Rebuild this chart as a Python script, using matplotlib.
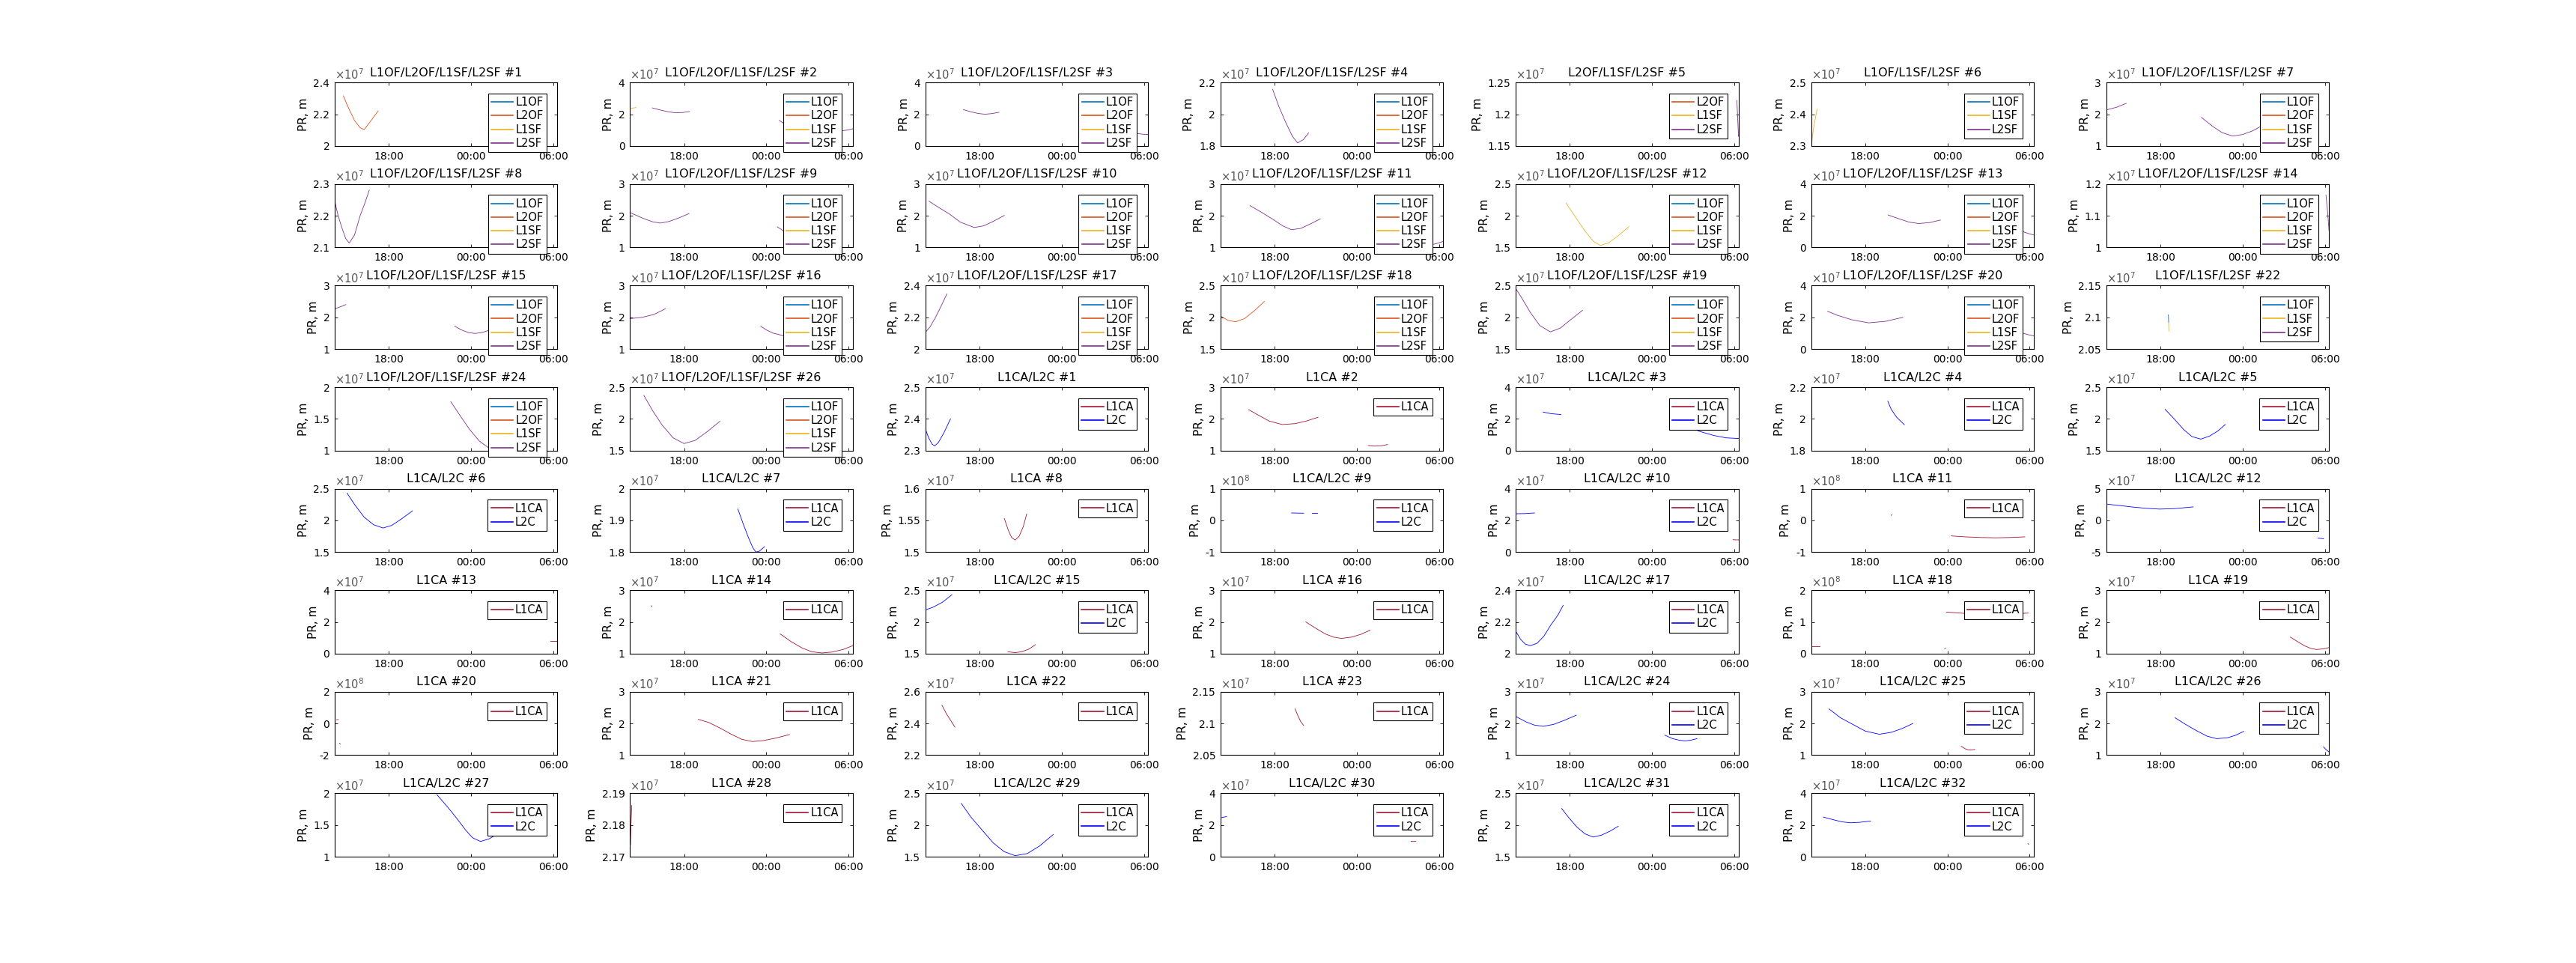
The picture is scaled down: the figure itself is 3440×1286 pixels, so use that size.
import numpy as np
import matplotlib
matplotlib.use("Agg")
import matplotlib.pyplot as plt
from matplotlib.lines import Line2D

plt.rcParams['font.family'] = ['DejaVu Sans']
plt.rcParams['mathtext.fontset'] = 'dejavusans'

# pseudoranges are kept in units of 1e7 m, time in hours (24 = 00:00 next day)
PR_UNIT = 1e7

titles = [
    "L1OF/L2OF/L1SF/L2SF #1", "L1OF/L2OF/L1SF/L2SF #2", "L1OF/L2OF/L1SF/L2SF #3",
    "L1OF/L2OF/L1SF/L2SF #4", "L2OF/L1SF/L2SF #5", "L1OF/L1SF/L2SF #6",
    "L1OF/L2OF/L1SF/L2SF #7", "L1OF/L2OF/L1SF/L2SF #8", "L1OF/L2OF/L1SF/L2SF #9",
    "L1OF/L2OF/L1SF/L2SF #10", "L1OF/L2OF/L1SF/L2SF #11", "L1OF/L2OF/L1SF/L2SF #12",
    "L1OF/L2OF/L1SF/L2SF #13", "L1OF/L2OF/L1SF/L2SF #14", "L1OF/L2OF/L1SF/L2SF #15",
    "L1OF/L2OF/L1SF/L2SF #16", "L1OF/L2OF/L1SF/L2SF #17", "L1OF/L2OF/L1SF/L2SF #18",
    "L1OF/L2OF/L1SF/L2SF #19", "L1OF/L2OF/L1SF/L2SF #20", "L1OF/L1SF/L2SF #22",
    "L1OF/L2OF/L1SF/L2SF #24", "L1OF/L2OF/L1SF/L2SF #26", "L1CA/L2C #1",
    "L1CA #2", "L1CA/L2C #3", "L1CA/L2C #4", "L1CA/L2C #5",
    "L1CA/L2C #6", "L1CA/L2C #7", "L1CA #8", "L1CA/L2C #9",
    "L1CA/L2C #10", "L1CA #11", "L1CA/L2C #12", "L1CA #13",
    "L1CA #14", "L1CA/L2C #15", "L1CA #16", "L1CA/L2C #17",
    "L1CA #18", "L1CA #19", "L1CA #20", "L1CA #21",
    "L1CA #22", "L1CA #23", "L1CA/L2C #24", "L1CA/L2C #25",
    "L1CA/L2C #26", "L1CA/L2C #27", "L1CA #28", "L1CA/L2C #29",
    "L1CA/L2C #30", "L1CA/L2C #31", "L1CA/L2C #32",
]

ylims = [
    (2.0, 2.4), (0, 4), (0, 4), (1.8, 2.2), (1.15, 1.25), (2.3, 2.5), (1, 3),
    (2.1, 2.3), (1, 3), (1, 3), (1, 3), (1.5, 2.5), (0, 4), (1.0, 1.2),
    (1, 3), (1, 3), (2.0, 2.4), (1.5, 2.5), (1.5, 2.5), (0, 4), (2.05, 2.15),
    (1, 2), (1.5, 2.5), (2.3, 2.5), (1, 3), (0, 4), (1.8, 2.2), (1.5, 2.5),
    (1.5, 2.5), (1.8, 2.0), (1.5, 1.6), (-10, 10), (0, 4), (-10, 10), (-5, 5),
    (0, 4), (1, 3), (1.5, 2.5), (1, 3), (2.0, 2.4), (0, 20), (1, 3),
    (-20, 20), (1, 3), (2.2, 2.6), (2.05, 2.15), (1, 3), (1, 3), (1, 3),
    (1, 2), (2.17, 2.19), (1.5, 2.5), (0, 4), (1.5, 2.5), (0, 4),
]

# (panel index, signal, hours, PR values)
curves = [
    (0, 'L2OF', [14.68, 15.0, 15.5, 15.9, 16.2, 16.7, 17.22], [2.316, 2.25, 2.16, 2.115, 2.103, 2.16, 2.221]),
    (1, 'L1SF', [14.06, 14.25, 14.5], [2.36, 2.39, 2.42]),
    (1, 'L2SF', [15.68, 16.2, 16.8, 17.37, 17.9, 18.4], [2.40, 2.28, 2.16, 2.09, 2.11, 2.17]),
    (1, 'L2SF', [24.94, 25.5, 26.1, 27.0, 28.0, 29.0, 29.45, 29.9, 30.3], [1.61, 1.30, 1.06, 0.90, 0.85, 0.90, 0.95, 1.00, 1.08]),
    (2, 'L2SF', [16.83, 17.4, 17.9, 18.41, 18.9, 19.42], [2.29, 2.15, 2.05, 2.0, 2.04, 2.12]),
    (2, 'L2SF', [29.4, 29.9, 30.3], [0.80, 0.74, 0.72]),
    (3, 'L2SF', [17.85, 18.3, 18.82, 19.3, 19.67, 20.1, 20.48], [2.158, 2.05, 1.946, 1.86, 1.819, 1.84, 1.882]),
    (4, 'L2SF', [30.18, 30.25, 30.3], [1.222, 1.19, 1.165]),
    (5, 'L1SF', [14.06, 14.25, 14.49], [2.30, 2.36, 2.416]),
    (6, 'L2SF', [14.06, 14.8, 15.5], [2.137, 2.22, 2.343]),
    (6, 'L2SF', [20.99, 21.8, 22.5, 23.27, 24.0, 24.7, 25.3], [1.90, 1.62, 1.42, 1.31, 1.36, 1.47, 1.61]),
    (7, 'L2SF', [14.06, 14.3, 14.58, 14.85, 15.11, 15.5, 15.9, 16.25, 16.57], [2.244, 2.2, 2.161, 2.128, 2.114, 2.14, 2.2, 2.24, 2.281]),
    (8, 'L2SF', [14.06, 15.0, 15.7, 16.26, 16.9, 17.6, 18.36], [2.10, 1.92, 1.81, 1.77, 1.82, 1.93, 2.07]),
    (8, 'L2SF', [24.8, 25.05, 25.3], [1.65, 1.58, 1.50]),
    (9, 'L2SF', [14.32, 15.0, 15.8, 16.6, 17.62, 18.3, 19.0, 19.82], [2.46, 2.27, 2.06, 1.80, 1.63, 1.68, 1.82, 2.01]),
    (10, 'L2SF', [16.2, 17.0, 17.9, 18.6, 19.23, 19.9, 20.6, 21.32], [2.32, 2.12, 1.88, 1.68, 1.56, 1.60, 1.74, 1.90]),
    (10, 'L2SF', [29.6, 29.95, 30.3], [1.10, 1.14, 1.19]),
    (11, 'L1SF', [17.72, 18.4, 19.1, 19.7, 20.22, 20.8, 21.5, 22.31], [2.20, 1.98, 1.76, 1.60, 1.53, 1.57, 1.68, 1.83]),
    (12, 'L2SF', [19.67, 20.5, 21.2, 21.92, 22.7, 23.49], [2.05, 1.80, 1.60, 1.51, 1.57, 1.73]),
    (12, 'L2SF', [29.5, 29.9, 30.3], [1.00, 0.88, 0.79]),
    (13, 'L2SF', [30.08, 30.2, 30.3], [1.165, 1.11, 1.054]),
    (14, 'L2SF', [14.06, 14.45, 14.85], [2.27, 2.33, 2.40]),
    (14, 'L2SF', [22.8, 23.3, 23.8, 24.28, 24.8, 25.32], [1.72, 1.60, 1.52, 1.49, 1.52, 1.59]),
    (15, 'L2SF', [14.06, 14.95, 15.8, 16.63], [1.96, 2.0, 2.09, 2.27]),
    (15, 'L2SF', [23.59, 24.0, 24.5, 25.32], [1.72, 1.60, 1.50, 1.41]),
    (16, 'L2SF', [14.06, 14.4, 14.8, 15.2, 15.63], [2.105, 2.14, 2.20, 2.27, 2.348]),
    (17, 'L2OF', [14.06, 14.6, 15.16, 15.8, 16.5, 17.25], [2.02, 1.95, 1.93, 1.98, 2.10, 2.25]),
    (18, 'L2SF', [14.06, 14.5, 15.1, 15.8, 16.57, 17.3, 18.1, 18.92], [2.45, 2.30, 2.08, 1.87, 1.77, 1.83, 1.97, 2.11]),
    (19, 'L2SF', [15.26, 16.0, 17.0, 18.25, 19.5, 20.76], [2.38, 2.12, 1.85, 1.65, 1.75, 2.0]),
    (19, 'L2SF', [29.5, 29.9, 30.3], [1.0, 0.9, 0.83]),
    (20, 'L1OF', [18.58, 18.6], [2.104, 2.092]),
    (20, 'L1SF', [18.6, 18.62], [2.092, 2.078]),
    (21, 'L2SF', [22.52, 23.2, 23.9, 24.6, 25.29], [1.77, 1.55, 1.33, 1.15, 1.04]),
    (22, 'L2SF', [15.06, 15.7, 16.4, 17.2, 17.99, 18.8, 19.7, 20.6], [2.37, 2.13, 1.90, 1.70, 1.61, 1.66, 1.80, 1.96]),
    (23, 'L2C', [14.06, 14.3, 14.55, 14.74, 15.0, 15.4, 15.89], [2.368, 2.34, 2.32, 2.315, 2.325, 2.355, 2.40]),
    (24, 'L1CA', [16.1, 16.8, 17.6, 18.56, 19.5, 20.3, 21.17], [2.29, 2.12, 1.93, 1.82, 1.85, 1.93, 2.05]),
    (24, 'L1CA', [24.83, 25.3, 25.8, 26.24], [1.16, 1.14, 1.15, 1.19]),
    (25, 'L2C', [16.04, 16.6, 17.35], [2.43, 2.33, 2.27]),
    (25, 'L2C', [26.59, 27.5, 28.5, 29.4, 30.3], [1.51, 1.20, 0.95, 0.80, 0.76]),
    (26, 'L2C', [19.65, 19.9, 20.3, 20.86], [2.112, 2.06, 2.01, 1.963]),
    (27, 'L2C', [18.34, 19.0, 19.7, 20.3, 20.95, 21.6, 22.2, 22.73], [2.15, 2.0, 1.83, 1.72, 1.68, 1.73, 1.81, 1.91]),
    (28, 'L2C', [14.95, 15.5, 16.2, 16.9, 17.57, 18.2, 18.9, 19.72], [2.43, 2.25, 2.05, 1.93, 1.88, 1.92, 2.02, 2.15]),
    (29, 'L2C', [21.92, 22.3, 22.7, 23.0, 23.23, 23.5, 23.86], [1.936, 1.89, 1.845, 1.815, 1.80, 1.803, 1.817]),
    (30, 'L1CA', [19.82, 20.1, 20.35, 20.61, 20.9, 21.2, 21.45], [1.553, 1.535, 1.523, 1.519, 1.525, 1.54, 1.56]),
    (31, 'L2C', [19.23, 19.7, 20.12], [2.35, 2.30, 2.28]),
    (31, 'L2C', [20.7, 20.9, 21.1], [2.25, 2.25, 2.25]),
    (32, 'L2C', [14.06, 14.7, 15.42], [2.42, 2.43, 2.47]),
    (32, 'L1CA', [29.9, 30.1, 30.3], [0.78, 0.77, 0.77]),
    (33, 'L1CA', [14.06, 14.12], [2.2, 2.5]),
    (33, 'L1CA', [19.9, 19.95], [1.6, 1.8]),
    (33, 'L1CA', [24.27, 25.3, 26.4, 27.55, 28.6, 29.65], [-4.9, -5.2, -5.4, -5.5, -5.4, -5.2]),
    (34, 'L2C', [14.06, 15.0, 16.0, 17.0, 17.93, 19.0, 20.39], [2.57, 2.35, 2.10, 1.90, 1.78, 1.85, 2.13]),
    (34, 'L2C', [29.5, 29.7, 29.9], [-2.8, -2.85, -2.9]),
    (35, 'L1CA', [14.06, 14.1], [2.25, 2.2]),
    (35, 'L1CA', [29.8, 30.05, 30.3], [0.78, 0.77, 0.77]),
    (36, 'L1CA', [15.6, 15.65], [2.51, 2.48]),
    (36, 'L1CA', [25.01, 25.8, 26.6, 27.3, 28.05, 28.8, 29.6, 30.3], [1.62, 1.38, 1.18, 1.06, 1.02, 1.05, 1.13, 1.25]),
    (37, 'L2C', [14.06, 14.6, 15.3, 16.0], [2.19, 2.23, 2.31, 2.43]),
    (37, 'L1CA', [20.08, 20.6, 21.1, 21.6, 22.08], [1.53, 1.515, 1.53, 1.57, 1.64]),
    (38, 'L1CA', [20.27, 21.0, 21.7, 22.3, 22.88, 23.6, 24.3, 24.97], [2.0, 1.8, 1.62, 1.52, 1.48, 1.52, 1.61, 1.74]),
    (39, 'L2C', [14.06, 14.4, 14.75, 15.11, 15.6, 16.1, 16.6, 17.1, 17.51], [2.14, 2.09, 2.06, 2.05, 2.065, 2.11, 2.18, 2.24, 2.305]),
    (40, 'L1CA', [14.06, 14.4, 14.7], [2.35, 2.35, 2.35]),
    (40, 'L1CA', [23.8, 23.85], [1.5, 1.7]),
    (40, 'L1CA', [23.93, 24.6, 25.25, 26.5, 28.0, 29.5, 29.9], [13.1, 12.9, 12.7, 12.6, 12.6, 12.7, 12.8]),
    (41, 'L1CA', [14.06, 14.1], [2.22, 2.18]),
    (41, 'L1CA', [27.48, 28.0, 28.5, 29.0, 29.41, 29.9, 30.3], [1.52, 1.38, 1.25, 1.16, 1.13, 1.15, 1.19]),
    (42, 'L1CA', [14.2, 14.3], [2.4, 2.5]),
    (42, 'L1CA', [14.4, 14.45], [-12.5, -13.0]),
    (43, 'L1CA', [19.04, 19.8, 20.6, 21.4, 22.2, 22.97, 23.8, 24.7, 25.69], [2.13, 2.03, 1.86, 1.67, 1.50, 1.43, 1.46, 1.54, 1.65]),
    (44, 'L1CA', [15.27, 15.6, 15.9, 16.21], [2.515, 2.46, 2.42, 2.377]),
    (45, 'L1CA', [19.49, 19.7, 19.9, 20.11], [2.123, 2.112, 2.103, 2.097]),
    (46, 'L2C', [14.06, 14.8, 15.4, 16.05, 16.8, 17.6, 18.46], [2.22, 2.05, 1.95, 1.91, 1.97, 2.10, 2.26]),
    (46, 'L2C', [24.92, 25.5, 26.0, 26.38, 26.8, 27.27], [1.63, 1.52, 1.47, 1.45, 1.47, 1.52]),
    (47, 'L2C', [15.36, 16.2, 17.1, 18.0, 19.03, 19.9, 20.7, 21.48], [2.46, 2.18, 1.97, 1.76, 1.66, 1.72, 1.84, 2.0]),
    (47, 'L1CA', [25.0, 25.3, 25.6, 26.0], [1.28, 1.20, 1.16, 1.18]),
    (48, 'L2C', [19.07, 19.8, 20.6, 21.4, 22.1, 22.9, 23.5, 24.08], [2.18, 1.98, 1.78, 1.60, 1.52, 1.55, 1.63, 1.75]),
    (48, 'L2C', [29.9, 30.1, 30.3], [1.26, 1.17, 1.10]),
    (49, 'L2C', [21.5, 22.3, 22.9, 23.6, 24.1, 24.69, 25.3, 26.1], [1.98, 1.78, 1.62, 1.42, 1.30, 1.24, 1.28, 1.38]),
    (50, 'L1CA', [14.08, 14.12, 14.18], [2.1737, 2.18, 2.1862]),
    (51, 'L2C', [16.68, 17.4, 18.2, 19.0, 19.8, 20.61, 21.5, 22.4, 23.39], [2.34, 2.12, 1.92, 1.72, 1.58, 1.516, 1.55, 1.67, 1.85]),
    (52, 'L2C', [14.06, 14.3, 14.5], [2.45, 2.50, 2.53]),
    (52, 'L1CA', [27.95, 28.1, 28.3], [0.97, 0.96, 0.97]),
    (53, 'L2C', [17.4, 17.9, 18.5, 19.1, 19.7, 20.3, 20.9, 21.53], [2.26, 2.12, 1.97, 1.86, 1.81, 1.84, 1.90, 1.98]),
    (54, 'L2C', [14.95, 15.6, 16.3, 16.93, 17.6, 18.4], [2.50, 2.35, 2.20, 2.14, 2.17, 2.25]),
    (54, 'L1CA', [29.88, 29.92], [0.83, 0.78]),
]

xticks = [18, 24, 30]
xticklabels = ['18:00', '00:00', '06:00']
xlim = (14.06, 30.3)

colors = {'L1OF': '#0072BD', 'L2OF': '#D95319', 'L1SF': '#EDB120', 'L2SF': '#7E2F8E',
          'L1CA': '#A2142F', 'L2C': '#0000FF'}

fig = plt.figure(figsize=(34.4, 12.86), dpi=100)

axes = []
for i, title in enumerate(titles):
    r, c = divmod(i, 7)
    ax = fig.add_axes([0.13 + c * 0.11462, 0.1104 + (7 - r) * 0.10544, 0.0864, 0.0658])
    axes.append(ax)

for idx, sig, hrs, vals in curves:
    axes[idx].plot(hrs, np.array(vals) * PR_UNIT, color=colors[sig], lw=0.6)

for i, ax in enumerate(axes):
    lo, hi = ylims[i]
    expo = int(np.floor(np.log10(max(abs(lo), abs(hi)) * PR_UNIT)))
    ticks = np.array([lo, (lo + hi) / 2, hi]) * PR_UNIT
    ax.set_ylim(lo * PR_UNIT, hi * PR_UNIT)
    ax.set_yticks(ticks)
    ax.set_yticklabels(['%g' % round(t / 10 ** expo, 6) for t in ticks])
    ax.text(0, 1.01, r'$\times10^{%d}$' % expo, transform=ax.transAxes,
            ha='left', va='bottom', fontsize=10.5, color='#555555')

    ax.set_xlim(*xlim)
    ax.set_xticks(xticks)
    ax.set_xticklabels(xticklabels)
    ax.tick_params(direction='in', top=True, right=True, length=3, width=0.6,
                   labelsize=10, pad=5)
    for sp in ax.spines.values():
        sp.set_linewidth(0.8)

    ax.set_title(titles[i], fontsize=11.5, pad=6)
    ax.set_ylabel('PR, m', fontsize=11)

    sigs = titles[i].split(' #')[0].split('/')
    handles = [Line2D([], [], color=colors[s], lw=1.2) for s in sigs]
    leg = ax.legend(handles, sigs, loc='upper right', fontsize=10.5, frameon=True,
                    fancybox=False, framealpha=1, edgecolor='black',
                    borderaxespad=1.0, handlelength=2.0, handletextpad=0.2,
                    labelspacing=0.22, borderpad=0.3)
    leg.get_frame().set_linewidth(0.8)

fig.savefig('out.png', dpi=100)
